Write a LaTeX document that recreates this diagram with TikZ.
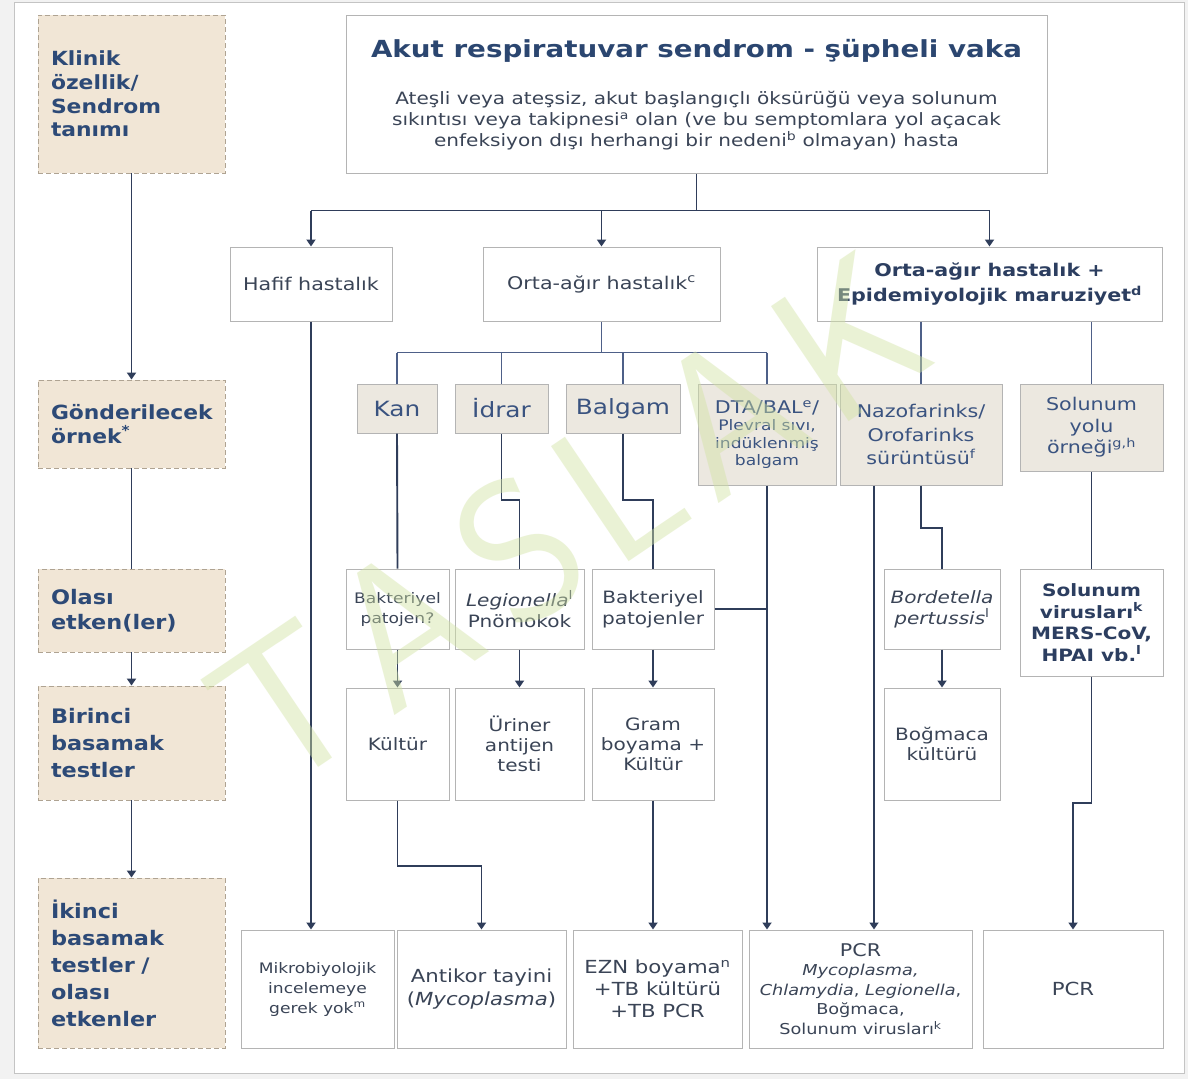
\documentclass[tikz,border=0pt]{standalone}
\usepackage{fontspec}
\setmainfont{DejaVu Sans}
\newfontfamily\wf[FakeStretch=1.18]{DejaVu Sans}
\newfontfamily\sidef[FakeStretch=1.12]{DejaVu Sans}
\usetikzlibrary{arrows.meta}

\definecolor{pagegray}{HTML}{F2F2F2}
\definecolor{framec}{HTML}{C4C4C4}
\definecolor{linec}{HTML}{2F3D5A}
\definecolor{linelight}{HTML}{4E6088}
\definecolor{boxborder}{HTML}{B4B4B4}
\definecolor{sidefill}{HTML}{F1E6D6}
\definecolor{sideborder}{HTML}{AFA392}
\definecolor{sidetext}{HTML}{2D4A77}
\definecolor{samplefill}{HTML}{ECE8E0}
\definecolor{sampletext}{HTML}{3A5380}
\definecolor{bodytext}{HTML}{3A4456}
\definecolor{titletext}{HTML}{2B4670}
\definecolor{boldtext}{HTML}{2C3E60}
\definecolor{wmcolor}{HTML}{D2E3A4}

\tikzset{
  sidebox/.style={draw=sideborder, dash pattern=on 5pt off 3pt, line width=0.9pt,
    fill=sidefill, text=sidetext, minimum width=187pt, text width=161pt,
    align=left, inner sep=0pt, font=\sidef\bfseries\fontsize{20}{25.5}\selectfont},
  wbox/.style={draw=boxborder, line width=1pt, fill=white, text=bodytext,
    align=center, inner sep=2pt},
  sbox/.style={wbox, fill=samplefill, text=sampletext},
  conn/.style={draw=linec, line width=1.9pt},
  thin/.style={draw=linelight, line width=1.5pt},
  arr/.style={conn, -{Triangle[length=7pt,width=9pt]}},
  wmletter/.style={rotate=34, text=wmcolor, opacity=0.45, inner sep=0pt,
    font=\sffamily\fontsize{200}{200}\selectfont},
}

\begin{document}
\begin{tikzpicture}[x=1pt,y=-1pt]
\useasboundingbox (0,0) rectangle (1188,1079);
% page and frame
\fill[pagegray] (0,0) rectangle (1188,1079);
\draw[framec, fill=white, line width=1pt] (14,2) rectangle (1184,1073);

% ---- left column: stages ----
\node[sidebox, minimum height=158pt, font=\sidef\bfseries\fontsize{19.5}{23.7}\selectfont] (side1) at (131.5,94)
  {Klinik\\özellik/\\Sendrom\\tanımı};
\node[sidebox, minimum height=88pt, font=\sidef\bfseries\fontsize{19.5}{23.5}\selectfont] (side2) at (131.5,424)
  {Gönderilecek\\örnek\textsuperscript{*}};
\node[sidebox, minimum height=83pt] (side3) at (131.5,610.5)
  {Olası\\etken(ler)};
\node[sidebox, minimum height=114pt, font=\sidef\bfseries\fontsize{20}{27}\selectfont] (side4) at (131.5,743)
  {Birinci\\basamak\\testler};
\node[sidebox, minimum height=170pt, font=\sidef\bfseries\fontsize{20}{27}\selectfont] (side5) at (131.5,963)
  {İkinci\\basamak\\testler /\\olası\\etkenler};

\draw[arr] (side1.south) -- (side2.north);
\draw[conn] (side2.south) -- (side3.north);
\draw[arr] (side3.south) -- (side4.north);
\draw[arr] (side4.south) -- (side5.north);

% ---- title box ----
\node[wbox, minimum width=701pt, minimum height=158pt] (title) at (696.5,94) {};
\node[text=titletext, font=\wf\bfseries\fontsize{23.5}{27}\selectfont] (titlehead) at (696.5,51)
  {Akut respiratuvar sendrom - şüpheli vaka};
\node[text=bodytext, align=center, font=\wf\fontsize{17}{21}\selectfont] (titlebody) at (696.5,121)
  {Ateşli veya ateşsiz, akut başlangıçlı öksürüğü veya solunum\\
   sıkıntısı veya takipnesi\textsuperscript{a} olan (ve bu semptomlara yol açacak\\
   enfeksiyon dışı herhangi bir nedeni\textsuperscript{b} olmayan) hasta};

% ---- severity ----
\node[wbox, minimum width=162pt, minimum height=74pt, font=\wf\fontsize{17.5}{21}\selectfont] (hafif) at (311,284)
  {Hafif hastalık};
\node[wbox, minimum width=237pt, minimum height=74pt, font=\wf\fontsize{17.5}{21}\selectfont] (orta) at (601.5,284)
  {Orta-ağır hastalık\textsuperscript{c}};
\node[wbox, minimum width=345pt, minimum height=74pt, text=boldtext, font=\wf\bfseries\fontsize{17.5}{25}\selectfont] (epi) at (989.5,284)
  {Orta-ağır hastalık +\\Epidemiyolojik maruziyet\textsuperscript{d}};

\draw[conn] (title.south) -- ++(0,37) coordinate (j1);
\draw[conn] (hafif.north |- j1) -- (epi.north |- j1);
\draw[arr] (hafif.north |- j1) -- (hafif.north);
\draw[arr] (orta.north |- j1) -- (orta.north);
\draw[arr] (epi.north |- j1) -- (epi.north);

% ---- specimens ----
\node[sbox, minimum width=80pt, minimum height=49pt, font=\wf\fontsize{21}{24}\selectfont] (kan) at (397,408.5) {Kan};
\node[sbox, minimum width=93pt, minimum height=49pt, font=\wf\fontsize{21}{24}\selectfont] (idrar) at (501.5,408.5) {İdrar};
\node[sbox, minimum width=114pt, minimum height=49pt, font=\wf\fontsize{21}{24}\selectfont] (balgam) at (623,408.5) {Balgam};
\node[sbox, minimum width=138pt, minimum height=101pt, font=\wf\fontsize{14.5}{17.5}\selectfont] (dta) at (767,434.5)
  {{\fontsize{17.5}{19}\selectfont DTA/BAL\textsuperscript{e}/}\\Plevral sıvı,\\indüklenmiş\\balgam};
\node[sbox, minimum width=162pt, minimum height=101pt, font=\wf\fontsize{17.5}{23.5}\selectfont] (nazo) at (921,434.5)
  {Nazofarinks/\\Orofarinks\\sürüntüsü\textsuperscript{f}};
\node[sbox, minimum width=143pt, minimum height=87pt, font=\wf\fontsize{17.5}{21.5}\selectfont] (syolu) at (1091.5,427.5)
  {Solunum\\yolu\\örneği\textsuperscript{g,h}};

\draw[thin] (orta.south) -- ++(0,31) coordinate (j2);
\draw[thin] (kan.north |- j2) -- (dta.north |- j2);
\draw[thin] (kan.north |- j2) -- (kan.north);
\draw[thin] (idrar.north |- j2) -- (idrar.north);
\draw[thin] (balgam.north |- j2) -- (balgam.north);
\draw[thin] (dta.north |- j2) -- (dta.north);
\draw[thin] (nazo.north |- epi.south) -- (nazo.north);
\draw[thin] (syolu.north |- epi.south) -- (syolu.north);

% ---- possible agents ----
\node[wbox, minimum width=103pt, minimum height=80pt, font=\wf\fontsize{14.5}{20}\selectfont] (bpa) at (397.5,609)
  {Bakteriyel\\patojen?};
\node[wbox, minimum width=129pt, minimum height=80pt, font=\wf\fontsize{17}{21}\selectfont] (leg) at (519.5,609)
  {\textit{Legionella}\textsuperscript{l}\\Pnömokok};
\node[wbox, minimum width=122pt, minimum height=80pt, font=\wf\fontsize{17}{21}\selectfont] (bpb) at (653,609)
  {Bakteriyel\\patojenler};
\node[wbox, minimum width=116pt, minimum height=80pt, font=\wf\fontsize{17}{21}\selectfont] (bord) at (942,609)
  {\textit{Bordetella}\\\textit{pertussis}\textsuperscript{l}};
\node[wbox, minimum width=143pt, minimum height=107pt, text=boldtext, font=\wf\bfseries\fontsize{17}{21.5}\selectfont] (svir) at (1091.5,622.5)
  {Solunum\\virusları\textsuperscript{k}\\MERS-CoV,\\HPAI vb.\textsuperscript{l}};

\coordinate (stepA) at (0,500);
\coordinate (stepB) at (0,528);
\draw[conn] (kan.south) -- (bpa.north);
\draw[conn] (idrar.south) -- (idrar.south |- stepA) -- (leg.north |- stepA) -- (leg.north);
\draw[conn] (balgam.south) -- (balgam.south |- stepA) -- (bpb.north |- stepA) -- (bpb.north);
\draw[conn] (nazo.south) -- (nazo.south |- stepB) -- (bord.north |- stepB) -- (bord.north);
\draw[conn] (syolu.south) -- (svir.north);

% ---- first-line tests ----
\node[wbox, minimum width=103pt, minimum height=112pt, font=\wf\fontsize{17}{20}\selectfont] (kultur) at (397.5,744) {Kültür};
\node[wbox, minimum width=129pt, minimum height=112pt, font=\wf\fontsize{17}{20}\selectfont] (uriner) at (519.5,744)
  {Üriner\\antijen\\testi};
\node[wbox, minimum width=122pt, minimum height=112pt, font=\wf\fontsize{17}{20}\selectfont] (gram) at (653,744)
  {Gram\\boyama +\\Kültür};
\node[wbox, minimum width=116pt, minimum height=112pt, font=\wf\fontsize{17}{20}\selectfont] (bogmaca) at (942,744)
  {Boğmaca\\kültürü};

\draw[arr] (bpa.south) -- (kultur.north);
\draw[arr] (leg.south) -- (uriner.north);
\draw[arr] (bpb.south) -- (gram.north);
\draw[arr] (bord.south) -- (bogmaca.north);

% ---- second-line tests ----
\node[wbox, minimum width=153pt, minimum height=118pt, font=\wf\fontsize{14.5}{20}\selectfont] (mikro) at (317.5,989)
  {Mikrobiyolojik\\incelemeye\\gerek yok\textsuperscript{m}};
\node[wbox, minimum width=169pt, minimum height=118pt, font=\wf\fontsize{18}{23}\selectfont] (antikor) at (481.5,989)
  {Antikor tayini\\(\textit{Mycoplasma})};
\node[wbox, minimum width=169pt, minimum height=118pt, font=\wf\fontsize{18}{22}\selectfont] (ezn) at (657.5,989)
  {EZN boyama\textsuperscript{n}\\+TB kültürü\\+TB PCR};
\node[wbox, minimum width=223pt, minimum height=118pt, font=\wf\fontsize{15}{19.5}\selectfont] (pcra) at (860.5,989)
  {{\fontsize{17.5}{19}\selectfont PCR}\\\textit{Mycoplasma,}\\\textit{Chlamydia}, \textit{Legionella},\\Boğmaca,\\Solunum virusları\textsuperscript{k}};
\node[wbox, minimum width=180pt, minimum height=118pt, font=\wf\fontsize{18}{22}\selectfont] (pcrb) at (1073,989) {PCR};

\coordinate (nzl) at (874,0);
\coordinate (stepC) at (0,866);
\coordinate (stepD) at (0,803);
\draw[arr] (hafif.south) -- (hafif.south |- mikro.north);
\draw[arr] (kultur.south) -- (kultur.south |- stepC) -- (antikor.north |- stepC) -- (antikor.north);
\draw[arr] (gram.south) -- (gram.south |- ezn.north);
\draw[conn] (bpb.east) -- (dta.south |- bpb.east);
\draw[arr] (dta.south) -- (dta.south |- pcra.north);
\draw[arr] (nzl |- nazo.south) -- (nzl |- pcra.north);
\draw[arr] (svir.south) -- (svir.south |- stepD) -- (pcrb.north |- stepD) -- (pcrb.north);

% ---- watermark, one letter at a time along the diagonal ----
\node[wmletter] (wmT)  at (287,705) {T};
\node[wmletter] (wmA)  at (404,626) {A};
\node[wmletter] (wmS)  at (520,550) {S};
\node[wmletter] (wmL)  at (618,485) {L};
\node[wmletter] (wmA2) at (727,414) {A};
\node[wmletter] (wmK)  at (850,338) {K};
\end{tikzpicture}
\end{document}
